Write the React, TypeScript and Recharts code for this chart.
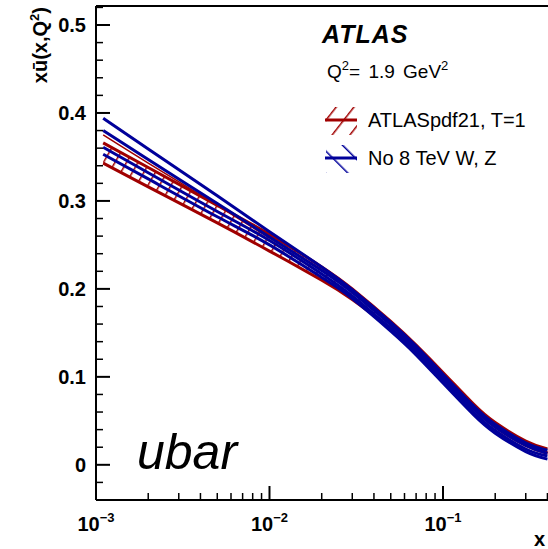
import React from 'react';
import {
  ComposedChart,
  Line,
  Area,
  XAxis,
  YAxis,
  ReferenceLine,
} from 'recharts';

// x grid and x*ubar(x, Q^2) curves at Q^2 = 1.9 GeV^2
const xValues = [0.0011, 0.002, 0.005, 0.01, 0.02, 0.03, 0.05, 0.07, 0.1, 0.15, 0.2, 0.3, 0.4];

// ATLASpdf21, T=1 band edges and the thin inner line
const redUpper = [0.366, 0.338, 0.295, 0.262, 0.225, 0.2, 0.163, 0.136, 0.105, 0.069, 0.048, 0.027, 0.018];
const redLower = [0.343, 0.316, 0.275, 0.243, 0.21, 0.188, 0.155, 0.129, 0.099, 0.064, 0.043, 0.022, 0.013];
const redInner = [0.375, 0.343, 0.295, 0.258, 0.222, 0.197, 0.16, 0.133, 0.102, 0.066, 0.045, 0.024, 0.015];

// No 8 TeV W, Z variations
const blueA = [0.394, 0.359, 0.306, 0.265, 0.225, 0.199, 0.162, 0.135, 0.103, 0.067, 0.046, 0.025, 0.0165];
const blueB = [0.38, 0.347, 0.297, 0.259, 0.221, 0.196, 0.159, 0.132, 0.1, 0.064, 0.043, 0.022, 0.013];
const blueC = [0.361, 0.332, 0.288, 0.255, 0.217, 0.192, 0.155, 0.128, 0.096, 0.06, 0.039, 0.018, 0.01];
const blueD = [0.353, 0.325, 0.282, 0.25, 0.213, 0.189, 0.152, 0.125, 0.093, 0.057, 0.036, 0.015, 0.0065];

const X_MIN = 0.001;
const X_MAX = 0.403;
const Y_MIN = -0.04;
const Y_MAX = 0.5216;

const RED = '#a00000';
const BLUE = '#00009a';
const FONT = '"Liberation Sans", Arial, Helvetica, sans-serif';

const data = xValues.map((x, i) => ({
  x,
  band: [redLower[i], redUpper[i]],
  redUpper: redUpper[i],
  redLower: redLower[i],
  redInner: redInner[i],
  blueA: blueA[i],
  blueB: blueB[i],
  blueC: blueC[i],
  blueD: blueD[i],
}));

// log axis ticks: decades are major, 2..9 are minor
const xTicks: number[] = [];
for (let e = -3; e <= -1; e++) {
  for (let m = 1; m <= 9; m++) {
    const v = m * Math.pow(10, e);
    if (v <= X_MAX) xTicks.push(v);
  }
}

const yTicks: number[] = [];
for (let k = -2; k <= 26; k++) yTicks.push(Math.round(k * 2) / 100);

function XTick(props: any) {
  const { x, y, payload } = props;
  const lg = Math.log10(payload.value);
  const exp = Math.round(lg);
  const major = Math.abs(lg - exp) < 1e-6;
  return (
    <g>
      <line
        x1={x}
        x2={x}
        y1={y}
        y2={y - (major ? 14 : 7)}
        stroke="#000"
        strokeWidth={major ? 2 : 1.5}
      />
      {major && (
        <text
          x={x}
          y={y + 31}
          textAnchor="middle"
          fontFamily={FONT}
          fontWeight="bold"
          fontSize={20}
          fill="#000"
        >
          10
          <tspan dy={-9} fontSize={13}>
            {'\u2212' + Math.abs(exp)}
          </tspan>
        </text>
      )}
    </g>
  );
}

function YTick(props: any) {
  const { x, y, payload } = props;
  const v = payload.value;
  const major = Math.abs(v * 10 - Math.round(v * 10)) < 1e-6;
  return (
    <g>
      <line
        x1={x}
        x2={x + (major ? 14 : 7)}
        y1={y}
        y2={y}
        stroke="#000"
        strokeWidth={major ? 2 : 1.5}
      />
      {major && (
        <text
          x={x - 10}
          y={y + 7}
          textAnchor="end"
          fontFamily={FONT}
          fontWeight="bold"
          fontSize={20}
          fill="#000"
        >
          {v === 0 ? '0' : v.toFixed(1)}
        </text>
      )}
    </g>
  );
}

function Annotations() {
  return (
    <svg
      width={548}
      height={549}
      style={{ position: 'absolute', left: 0, top: 0, pointerEvents: 'none' }}
      fontFamily={FONT}
    >
      <defs>
        <pattern id="legRed" width="14" height="14" patternUnits="userSpaceOnUse" patternTransform="translate(330,0) rotate(38)">
          <line x1="0" y1="0" x2="0" y2="14" stroke={RED} strokeWidth="3" />
        </pattern>
        <pattern id="legBlue" width="16" height="16" patternUnits="userSpaceOnUse" patternTransform="translate(332,0) rotate(-45)">
          <line x1="0" y1="0" x2="0" y2="16" stroke={BLUE} strokeWidth="3" />
        </pattern>
      </defs>

      {/* y axis title */}
      <text
        transform="translate(47,7) rotate(-90)"
        textAnchor="end"
        fontWeight="bold"
        fontSize={20}
        fill="#000"
      >
        x{'\u016B'}(x,Q
        <tspan dy={-8} fontSize={13}>2</tspan>
        <tspan dy={8}>)</tspan>
      </text>

      {/* x axis title */}
      <text x={545} y={546} textAnchor="end" fontWeight="bold" fontSize={20} fill="#000">
        x
      </text>

      <text x={322} y={43} fontWeight="bold" fontStyle="italic" fontSize={25} letterSpacing={1} fill="#000">
        ATLAS
      </text>
      <text x={327} y={78} fontSize={19} wordSpacing={3} fill="#000">
        Q<tspan dy={-8} fontSize={13}>2</tspan>
        <tspan dy={8}>= 1.9 GeV</tspan>
        <tspan dy={-8} fontSize={13}>2</tspan>
      </text>

      {/* legend */}
      <rect x={326} y={107} width={31} height={28} fill="url(#legRed)" />
      <line x1={325} x2={357} y1={120} y2={120} stroke={RED} strokeWidth={3} />
      <text x={368} y={127} fontSize={20} fill="#000">
        ATLASpdf21, T=1
      </text>
      <rect x={326} y={145} width={31} height={28} fill="url(#legBlue)" />
      <line x1={325} x2={357} y1={158} y2={158} stroke={BLUE} strokeWidth={3} />
      <text x={368} y={165} fontSize={20} fill="#000">
        No 8 TeV W, Z
      </text>

      <text x={137} y={469} fontStyle="italic" fontSize={50} fill="#000">
        ubar
      </text>
    </svg>
  );
}

export default function App() {
  return (
    <div style={{ position: 'absolute', left: 0, top: 0, width: 548, height: 549, background: '#fff' }}>
      <ComposedChart
        width={548}
        height={549}
        data={data}
        margin={{ top: 6, right: 0, bottom: 0, left: 0 }}
      >
        <defs>
          <pattern
            id="redHatch"
            width="10"
            height="10"
            patternUnits="userSpaceOnUse"
            patternTransform="rotate(30)"
          >
            <line x1="0" y1="0" x2="0" y2="10" stroke={RED} strokeWidth="3" />
          </pattern>
        </defs>
        <XAxis
          dataKey="x"
          type="number"
          scale="log"
          domain={[X_MIN, X_MAX]}
          allowDataOverflow
          ticks={xTicks}
          interval={0}
          height={49}
          tickSize={0}
          tickMargin={0}
          tick={<XTick />}
          axisLine={{ stroke: '#000', strokeWidth: 2 }}
          tickLine={false}
        />
        <YAxis
          type="number"
          domain={[Y_MIN, Y_MAX]}
          allowDataOverflow
          ticks={yTicks}
          interval={0}
          width={96}
          tickSize={0}
          tickMargin={0}
          tick={<YTick />}
          axisLine={{ stroke: '#000', strokeWidth: 2 }}
          tickLine={false}
        />
        <ReferenceLine y={Y_MAX} stroke="#000" strokeWidth={2} />

        <Area
          dataKey="band"
          type="natural"
          fill="url(#redHatch)"
          fillOpacity={1}
          stroke="none"
          isAnimationActive={false}
        />
        <Line dataKey="redUpper" type="natural" stroke={RED} strokeWidth={3} dot={false} isAnimationActive={false} />
        <Line dataKey="redLower" type="natural" stroke={RED} strokeWidth={3} dot={false} isAnimationActive={false} />
        <Line dataKey="redInner" type="natural" stroke={RED} strokeWidth={1.5} dot={false} isAnimationActive={false} />

        <Line dataKey="blueA" type="natural" stroke={BLUE} strokeWidth={3} dot={false} isAnimationActive={false} />
        <Line dataKey="blueB" type="natural" stroke={BLUE} strokeWidth={3} dot={false} isAnimationActive={false} />
        <Line dataKey="blueC" type="natural" stroke={BLUE} strokeWidth={3} dot={false} isAnimationActive={false} />
        <Line dataKey="blueD" type="natural" stroke={BLUE} strokeWidth={3} dot={false} isAnimationActive={false} />
      </ComposedChart>
      <Annotations />
    </div>
  );
}
